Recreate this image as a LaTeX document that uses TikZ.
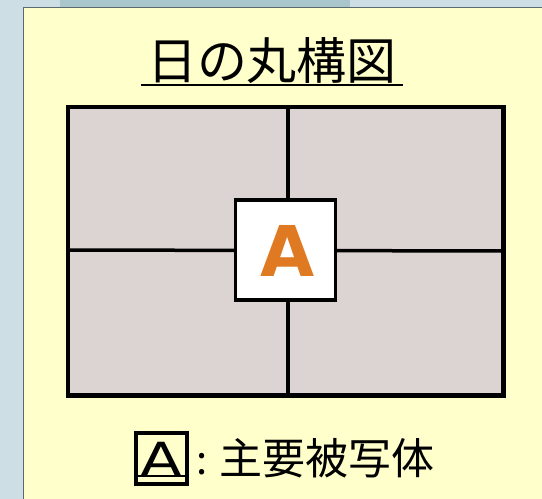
\documentclass[tikz,border=0pt]{standalone}
\usepackage{fontspec}
\newfontfamily\jp{Noto Sans CJK JP}
\newfontfamily\sansA{DejaVu Sans}
\definecolor{outerbg}{HTML}{CDDFE4}
\definecolor{band}{HTML}{A8C6CC}
\definecolor{panel}{HTML}{FFFFCC}
\definecolor{panelline}{HTML}{5A6A6E}
\definecolor{gridfill}{HTML}{DCD4D2}
\definecolor{orangeA}{HTML}{E07A22}
\tikzset{
  frameline/.style={line width=4.5pt, black},
  gridline/.style={line width=3.5pt, black},
}
\begin{document}
\begin{tikzpicture}[x=1pt,y=-1pt]
\useasboundingbox (0,0) rectangle (542,499);
\fill[outerbg] (0,0) rectangle (542,499);
\fill[band] (60,0) rectangle (350,7);
\fill[panel] (23,7) rectangle (542,499);
\draw[panelline, line width=1pt] (23,499) -- (23,7) -- (542,7);
% title
\node[font=\jp\fontsize{50}{52}\selectfont, anchor=base, inner sep=0pt] (title) at (272,79) {日の丸構図};
\draw[line width=1.2pt] (141,85) -- (403,85);
% grid
\node[draw=none, fill=gridfill, minimum width=435pt, minimum height=288pt, inner sep=0pt, anchor=north west] (frame) at (68,107) {};
\coordinate (vt) at (288,107);
\coordinate (vb) at (288,395);
\coordinate (hl) at (68,250);
\coordinate (hr) at (503,251);
\draw[gridline] (vt) -- (vb);
\draw[gridline] (hl) -- (hr);
\draw[frameline] (frame.north west) rectangle (frame.south east);
% center box
\node[draw, line width=3.5pt, fill=white, minimum width=100pt, minimum height=100pt, inner sep=0pt] (center) at (285.5,250) {};
\node[font=\sansA\bfseries\fontsize{70}{70}\selectfont, text=orangeA, inner sep=0pt] (A) at (287.5,251) {A};
% legend
\node[draw, line width=3.5pt, minimum width=51pt, minimum height=51pt, inner sep=0pt] (legbox) at (161.5,458.5) {};
\node[font=\sansA\fontsize{47}{47}\selectfont, inner sep=0pt, anchor=base, xscale=1.3] (legA) at (161,476) {A};
\draw[line width=2.5pt] (legbox.west |- 0,476) -- (legbox.east |- 0,476);
\node[font=\jp\fontsize{40}{40}\selectfont, anchor=base west, inner sep=0pt] (colon) at (196,474) {:};
\node[font=\jp\fontsize{43}{43}\selectfont, anchor=base west, inner sep=0pt] (leg) at (219,474) {主要被写体};
\end{tikzpicture}
\end{document}
